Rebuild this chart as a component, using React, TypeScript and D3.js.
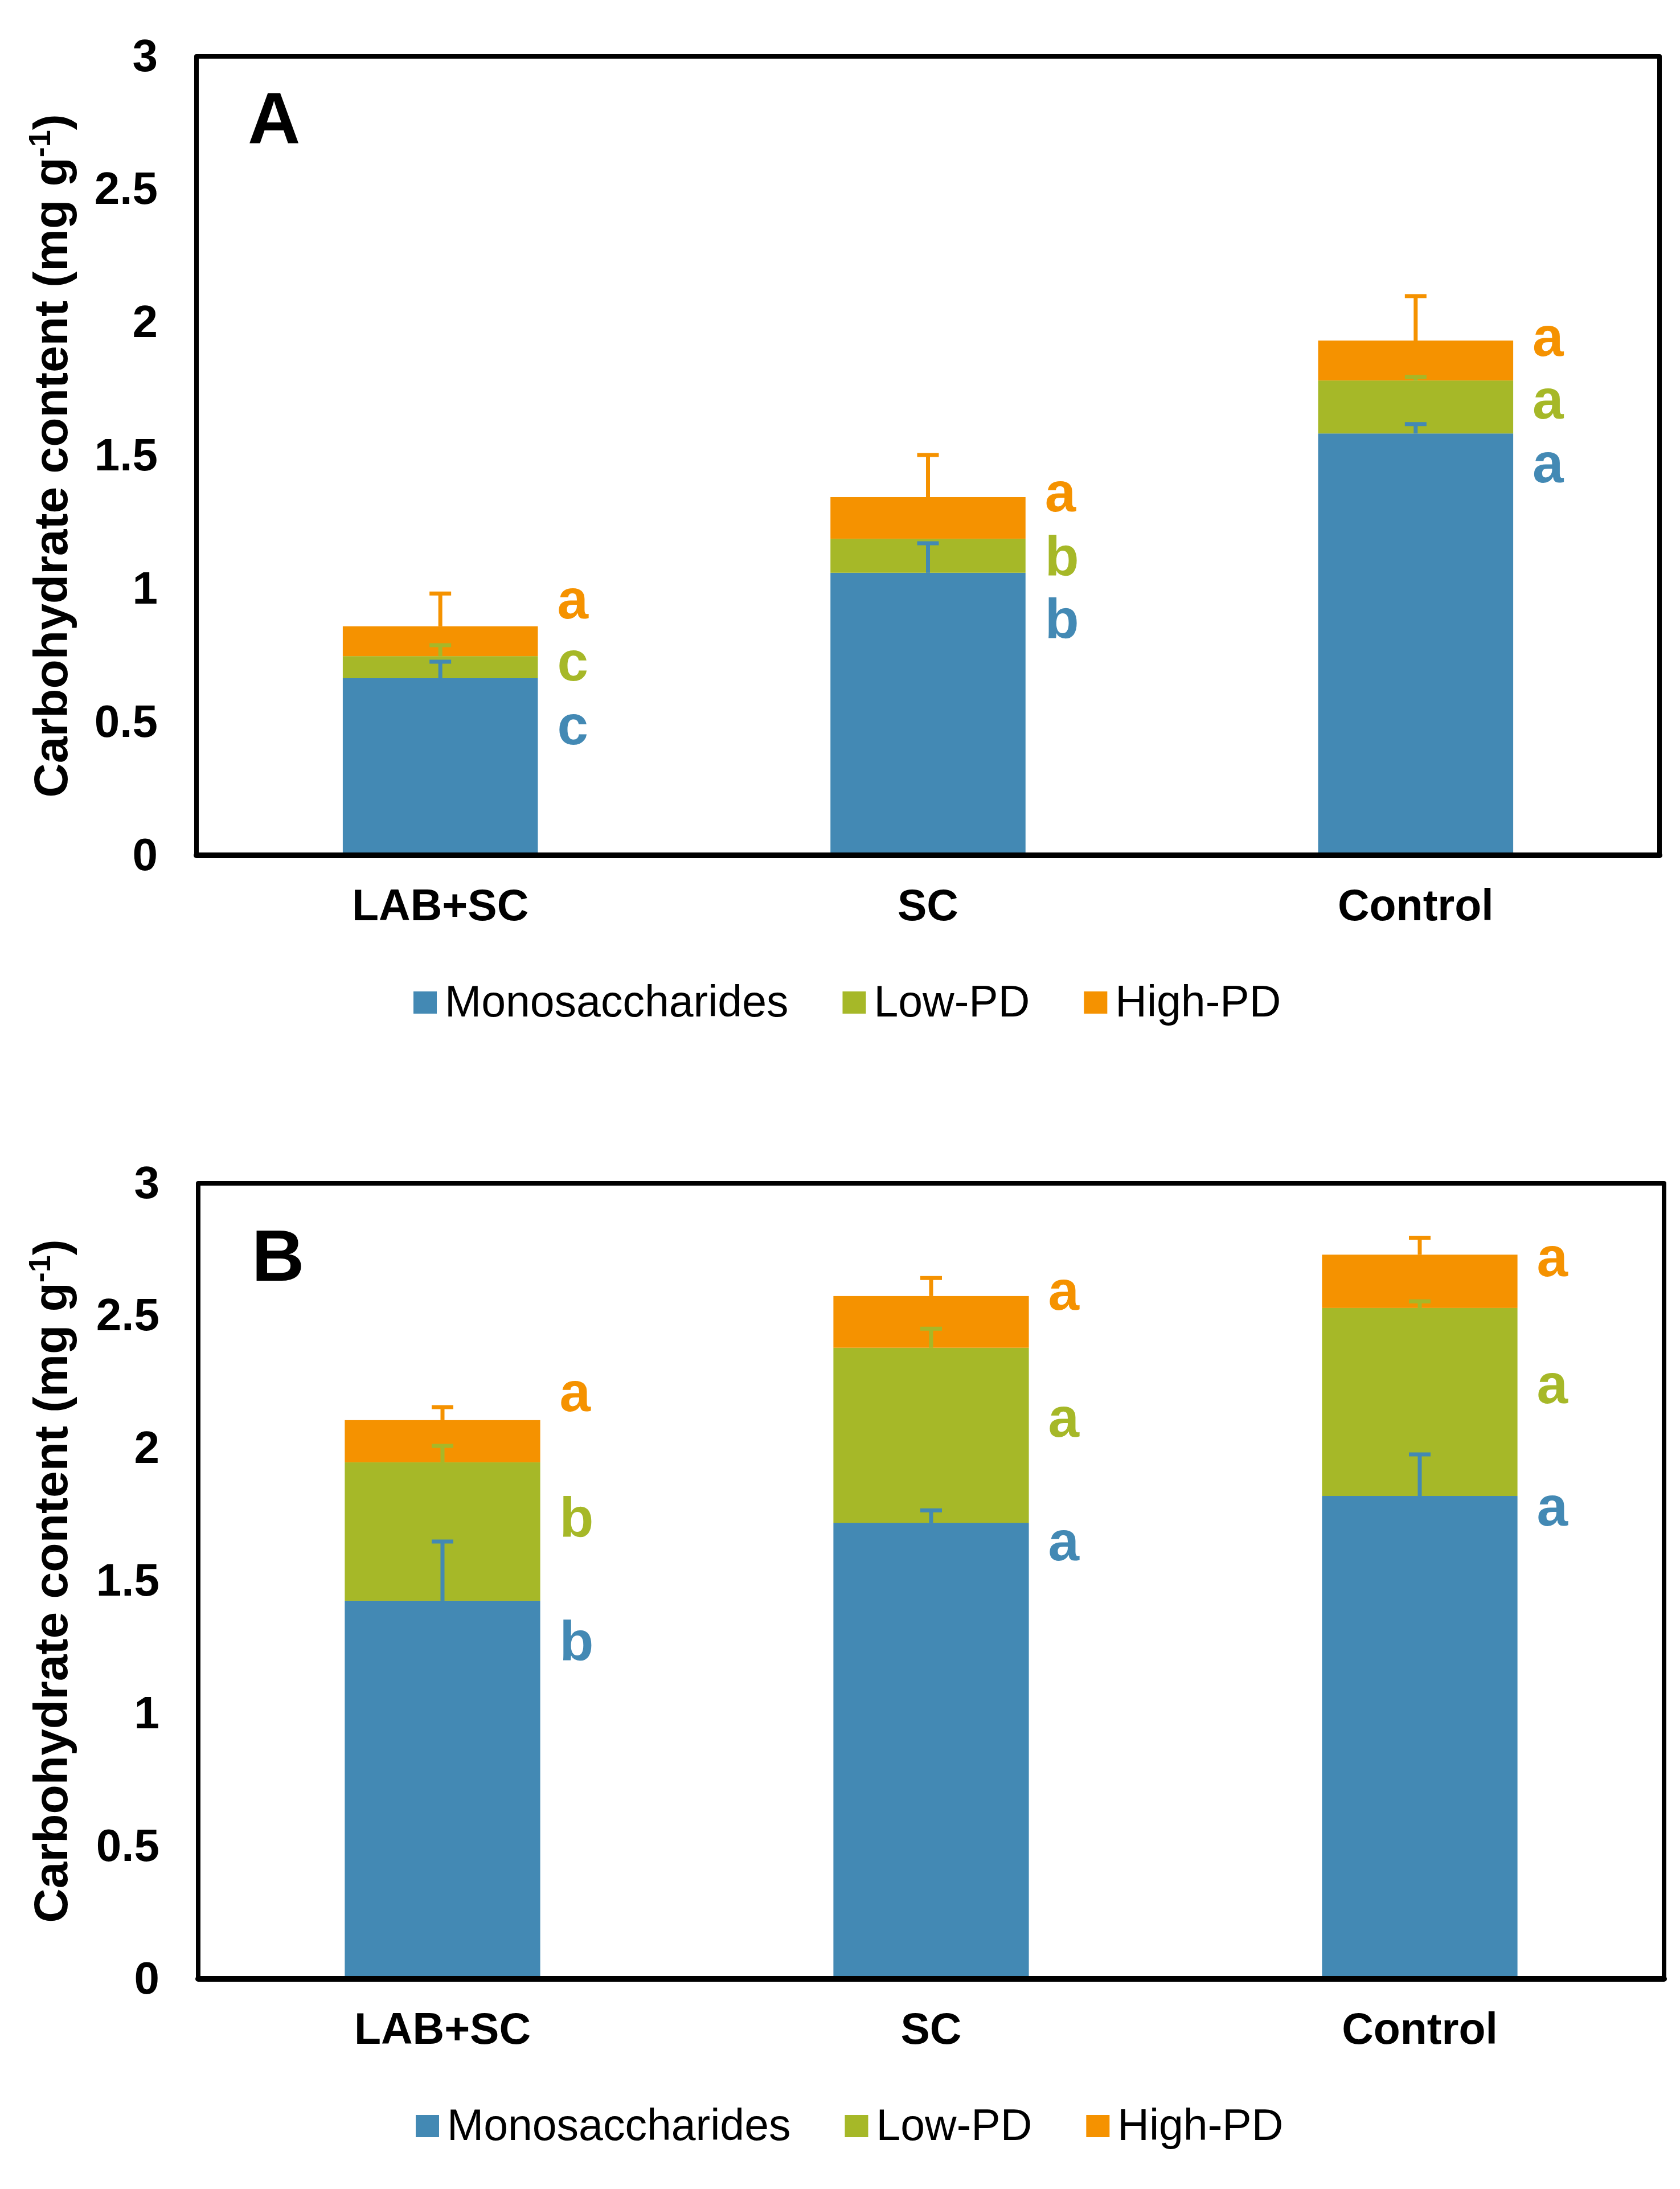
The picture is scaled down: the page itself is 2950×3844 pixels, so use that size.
import React from "react";
import * as d3 from "d3";

const categories = ["LAB+SC", "SC", "Control"];
const seriesNames = ["Monosaccharides", "Low-PD", "High-PD"];
const seriesColors = ["#4389B4", "#A6B828", "#F59200"];
const yTicks = [0, 0.5, 1, 1.5, 2, 2.5, 3];

// Panel A values (mg g-1)
const monoA = [0.665, 1.061, 1.584];
const lowA = [0.083, 0.128, 0.199];
const highA = [0.112, 0.156, 0.15];
const errMonoA = [0.062, 0.111, 0.035];
const errLowA = [0.041, 0.0, 0.013];
const errHighA = [0.123, 0.158, 0.167];
const lettersMonoA = ["c", "b", "a"];
const lettersLowA = ["c", "b", "a"];
const lettersHighA = ["a", "a", "a"];
const letterYMonoA = [0.417, 0.817, 1.4];
const letterYLowA = [0.656, 1.052, 1.64];
const letterYHighA = [0.889, 1.291, 1.875];

// Panel B values (mg g-1)
const monoB = [1.426, 1.72, 1.821];
const lowB = [0.522, 0.66, 0.709];
const highB = [0.159, 0.195, 0.201];
const errMonoB = [0.223, 0.047, 0.157];
const errLowB = [0.062, 0.072, 0.025];
const errHighB = [0.049, 0.068, 0.064];
const lettersMonoB = ["b", "a", "a"];
const lettersLowB = ["b", "a", "a"];
const lettersHighB = ["a", "a", "a"];
const letterYMonoB = [1.202, 1.578, 1.709];
const letterYLowB = [1.668, 2.044, 2.171];
const letterYHighB = [2.141, 2.523, 2.65];

const FONT = "'Liberation Sans', Arial, Helvetica, sans-serif";

function measure(text: string, font: string): number {
  try {
    const c = document.createElement("canvas");
    const ctx = c.getContext("2d");
    if (ctx) {
      ctx.font = font;
      return ctx.measureText(text).width;
    }
  } catch (e) {}
  return text.length * 40;
}

type PanelProps = {
  label: string;
  left: number;
  right: number;
  top: number;
  bottom: number;
  labelX: number;
  labelY: number;
  legendX: number;
  mono: number[];
  low: number[];
  high: number[];
  errs: number[][];
  letters: string[][];
  letterY: number[][];
};

function Panel(p: PanelProps) {
  const x = d3
    .scaleBand<string>()
    .domain(categories)
    .range([p.left, p.right])
    .paddingInner(0.6)
    .paddingOuter(0.3);
  const y = d3.scaleLinear().domain([0, 3]).range([p.bottom, p.top]);
  const rows = categories.map((c, i) => ({
    cat: c,
    s0: p.mono[i],
    s1: p.low[i],
    s2: p.high[i],
  }));
  const stack = d3.stack<any>().keys(["s0", "s1", "s2"])(rows);
  const bw = x.bandwidth();
  const capW = 38;
  const midY = (p.top + p.bottom) / 2;

  const legendFont = `77px ${FONT}`;
  let lx = p.legendX;
  const legendItems = seriesNames.map((name, i) => {
    const item = { name, color: seriesColors[i], x: lx };
    lx += 55 + measure(name, legendFont) + 95;
    return item;
  });
  const legendBase = p.bottom + 283;

  return (
    <g>
      {/* bars */}
      {stack.map((layer, si) => (
        <g key={si} fill={seriesColors[si]}>
          {layer.map((d: any, ci: number) => (
            <rect
              key={ci}
              x={x(categories[ci])!}
              y={y(d[1])}
              width={bw}
              height={y(d[0]) - y(d[1])}
            />
          ))}
        </g>
      ))}
      {/* error bars */}
      {stack.map((layer, si) => (
        <g key={"e" + si} stroke={seriesColors[si]} strokeWidth={7} fill="none">
          {layer.map((d: any, ci: number) => {
            const e = p.errs[si][ci];
            if (e <= 0) return null;
            const cx = x(categories[ci])! + bw / 2;
            const y1 = y(d[1]);
            const y2 = y(d[1] + e);
            return (
              <g key={ci}>
                <line x1={cx} x2={cx} y1={y1} y2={y2} />
                <line x1={cx - capW / 2} x2={cx + capW / 2} y1={y2} y2={y2} />
              </g>
            );
          })}
        </g>
      ))}
      {/* significance letters */}
      {p.letters.map((arr, si) =>
        arr.map((t, ci) => (
          <text
            key={si + "-" + ci}
            x={x(categories[ci])! + bw + 34}
            y={y(p.letterY[si][ci])}
            fill={seriesColors[si]}
            fontFamily={FONT}
            fontWeight="bold"
            fontSize={98}
          >
            {t}
          </text>
        ))
      )}
      {/* frame */}
      <rect
        x={p.left}
        y={p.top}
        width={p.right - p.left}
        height={p.bottom - p.top}
        fill="none"
        stroke="#000"
        strokeWidth={8}
        strokeLinejoin="round"
      />
      <line
        x1={p.left}
        x2={p.right}
        y1={p.bottom}
        y2={p.bottom}
        stroke="#000"
        strokeWidth={10}
        strokeLinecap="round"
      />
      {/* y tick labels */}
      {yTicks.map((t) => (
        <text
          key={t}
          x={p.left - 68}
          y={y(t)}
          dy="0.32em"
          textAnchor="end"
          fontFamily={FONT}
          fontWeight="bold"
          fontSize={80}
          fill="#000"
        >
          {d3.format("")(t)}
        </text>
      ))}
      {/* category labels */}
      {categories.map((c) => (
        <text
          key={c}
          x={x(c)! + bw / 2}
          y={p.bottom + 114}
          textAnchor="middle"
          fontFamily={FONT}
          fontWeight="bold"
          fontSize={77}
          fill="#000"
        >
          {c}
        </text>
      ))}
      {/* y axis title */}
      <text
        transform={`translate(118,${midY}) rotate(-90)`}
        textAnchor="middle"
        fontFamily={FONT}
        fontWeight="bold"
        fontSize={84}
        fill="#000"
      >
        Carbohydrate content (mg g
        <tspan dy={-30} fontSize={54}>
          -1
        </tspan>
        <tspan dy={30}>)</tspan>
      </text>
      {/* panel label */}
      <text
        x={p.labelX}
        y={p.labelY}
        fontFamily={FONT}
        fontWeight="bold"
        fontSize={128}
        fill="#000"
      >
        {p.label}
      </text>
      {/* legend */}
      {legendItems.map((it) => (
        <g key={it.name}>
          <rect x={it.x} y={legendBase - 44} width={41} height={39} fill={it.color} />
          <text
            x={it.x + 55}
            y={legendBase}
            fontFamily={FONT}
            fontSize={77}
            fill="#000"
          >
            {it.name}
          </text>
        </g>
      ))}
    </g>
  );
}

export default function App() {
  return (
    <svg
      width={2950}
      height={3844}
      viewBox="0 0 2950 3844"
      style={{ position: "absolute", left: 0, top: 0, background: "#fff" }}
    >
      <rect x={0} y={0} width={2950} height={3844} fill="#fff" />
      <Panel
        label="A"
        left={345}
        right={2914}
        top={99}
        bottom={1502}
        labelX={435}
        labelY={252}
        legendX={726}
        mono={monoA}
        low={lowA}
        high={highA}
        errs={[errMonoA, errLowA, errHighA]}
        letters={[lettersMonoA, lettersLowA, lettersHighA]}
        letterY={[letterYMonoA, letterYLowA, letterYHighA]}
      />
      <Panel
        label="B"
        left={348}
        right={2922}
        top={2078}
        bottom={3475}
        labelX={442}
        labelY={2249}
        legendX={730}
        mono={monoB}
        low={lowB}
        high={highB}
        errs={[errMonoB, errLowB, errHighB]}
        letters={[lettersMonoB, lettersLowB, lettersHighB]}
        letterY={[letterYMonoB, letterYLowB, letterYHighB]}
      />
    </svg>
  );
}
